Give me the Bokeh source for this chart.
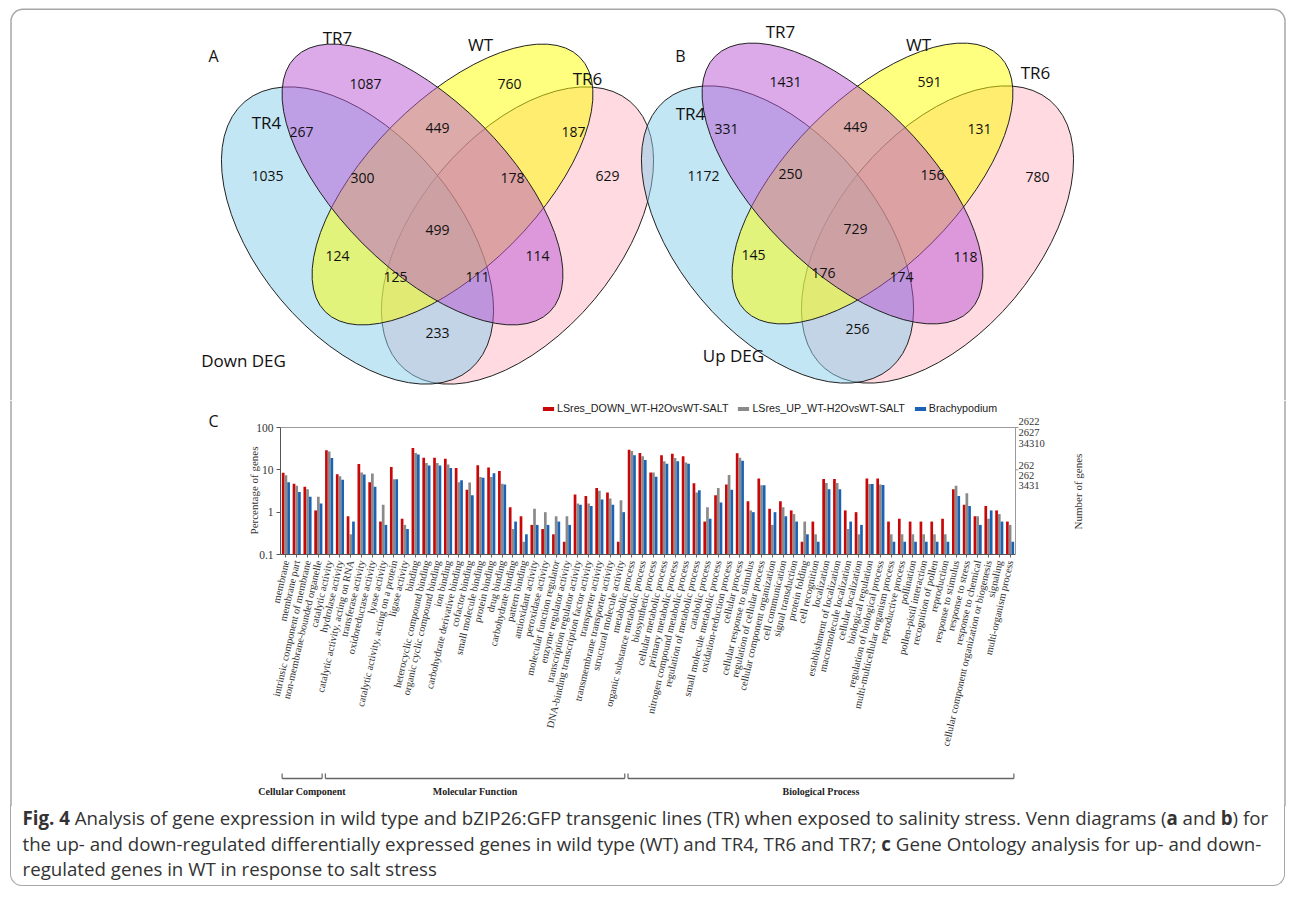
import math
from bokeh.plotting import figure
from bokeh.models import (Range1d, LogScale, LogAxis, LinearAxis, FixedTicker,
                          CustomJSTickFormatter, Legend, LegendItem, Div, ColumnDataSource)
from bokeh.layouts import column
from bokeh.transform import dodge
from bokeh.core.properties import value
from bokeh.embed import file_html
from bokeh.resources import INLINE

# ---------------------------------------------------------------- data
venn_sets = ["TR4", "TR7", "WT", "TR6"]
venn_regions = ["TR4", "TR7", "WT", "TR6", "TR4&TR7", "TR7&WT", "WT&TR6",
                "TR4&TR7&WT", "TR7&WT&TR6", "TR4&TR7&WT&TR6", "TR4&WT", "TR7&TR6",
                "TR4&WT&TR6", "TR4&TR7&TR6", "TR4&TR6"]
down_deg = [1035, 1087, 760, 629, 267, 449, 187, 300, 178, 499, 124, 114, 125, 111, 233]
up_deg = [1172, 1431, 591, 780, 331, 449, 131, 250, 156, 729, 145, 118, 176, 174, 256]

cc_terms = ["membrane", "membrane part", "intrinsic component of membrane",
            "non-membrane-bounded organelle"]
mf_terms = ["catalytic activity", "hydrolase activity", "catalytic activity, acting on RNA",
            "transferase activity", "oxidoreductase activity", "lyase activity",
            "catalytic activity, acting on a protein", "ligase activity", "binding",
            "heterocyclic compound binding", "organic cyclic compound binding", "ion binding",
            "carbohydrate derivative binding", "cofactor binding", "small molecule binding",
            "protein binding", "drug binding", "carbohydrate binding", "pattern binding",
            "antioxidant activity", "peroxidase activity", "molecular function regulator",
            "enzyme regulator activity", "transcription regulator activity",
            "DNA-binding transcription factor activity", "transporter activity",
            "transmembrane transporter activity", "structural molecule activity"]
bp_terms = ["metabolic process", "organic substance metabolic process", "biosynthetic process",
            "cellular metabolic process", "primary metabolic process",
            "nitrogen compound metabolic process", "regulation of metabolic process",
            "catabolic process", "small molecule metabolic process", "oxidation-reduction process",
            "cellular process", "cellular response to stimulus", "regulation of cellular process",
            "cellular component organization", "cell communication", "signal transduction",
            "protein folding", "cell recognition", "localization", "establishment of localization",
            "macromolecule localization", "cellular localization", "biological regulation",
            "regulation of biological process", "multi-multicellular organism process",
            "reproductive process", "pollination", "pollen-pistil interaction",
            "recognition of pollen", "reproduction", "response to stimulus", "response to stress",
            "response to chemical", "cellular component organization or biogenesis", "signaling",
            "multi-organism process"]
section_names = ["Cellular Component", "Molecular Function", "Biological Process"]

pct_down = [8.5, 4.7, 4.0, 1.1,
            29, 7.9, 0.8, 13.8, 5.1, 0.6, 11.6, 0.7, 33, 19.4, 19.4, 18.3, 11.0, 3.4, 12.8,
            11.3, 9.4, 1.3, 0.8, 0.5, 0.4, 0.3, 0.2, 2.6, 2.4, 3.7, 2.9, 0.2,
            30, 25, 8.6, 22, 24, 21, 4.8, 0.6, 2.5, 4.5, 24.5, 1.8, 6.2, 1.2, 1.8, 1.1, 0.2,
            0.6, 6.1, 6.1, 1.1, 1.0, 6.2, 6.2, 0.6, 0.7, 0.6, 0.6, 0.6, 0.7, 3.5, 1.5, 0.8,
            1.4, 1.1, 0.6]
pct_up = [7.4, 4.2, 3.5, 2.3,
          27, 7.1, 0.3, 8.7, 8.2, 1.5, 6.0, 0.5, 25, 14.5, 14.5, 13.3, 5.1, 5.0, 6.8,
          6.8, 4.7, 0.4, 0.2, 1.2, 1.0, 0.8, 0.8, 1.6, 1.6, 3.2, 2.1, 1.9,
          28, 21, 8.6, 16, 19, 15, 2.9, 1.3, 3.7, 7.5, 19.4, 1.1, 4.3, 0.5, 1.3, 0.9, 0.6,
          0.3, 4.9, 4.9, 0.4, 0.3, 4.6, 4.5, 0.3, 0.3, 0.3, 0.3, 0.3, 0.3, 4.2, 2.8, 0.8,
          0.7, 0.9, 0.5]
pct_brachy = [5.1, 3.0, 2.3, 1.6,
              19, 5.8, 0.6, 7.8, 4.0, 0.5, 6.0, 0.4, 23, 12.6, 12.6, 11.0, 5.7, 2.5, 6.5,
              8.3, 4.5, 0.6, 0.3, 0.5, 0.5, 0.6, 0.5, 1.5, 1.4, 2.0, 1.5, 1.0,
              22, 17, 6.9, 14, 16, 14, 3.3, 0.7, 1.7, 3.4, 16.5, 1.0, 4.3, 1.0, 0.8, 0.6, 0.3,
              0.2, 3.5, 3.5, 0.6, 0.5, 4.6, 4.4, 0.2, 0.2, 0.2, 0.2, 0.2, 0.2, 2.4, 1.4, 0.5,
              1.1, 0.6, 0.2]
series_names = ["LSres_DOWN_WT-H2OvsWT-SALT", "LSres_UP_WT-H2OvsWT-SALT", "Brachypodium"]
genes_at_100 = ["2622", "2627", "34310"]
genes_at_10 = ["262", "262", "3431"]
pct_ticks = [0.1, 1, 10, 100]

# ---------------------------------------------------------------- style / layout
PW = 1296                       # page width (bokeh page has no margin)
SANS = "Open Sans"
SERIF = "Liberation Serif"
RED, GREY, BLUE = "#c80808", "#8a8a8a", "#1c62b4"
FRAME = "#a6a6a6"
FX0, FX1, FY0, FR = 10.5, 1284.5, 8.75, 12     # outer rounded frame


def page_fig(h, top, bottom, x_range=None):
    return figure(width=PW, height=h, x_range=x_range or Range1d(0, PW),
                  y_range=Range1d(bottom, top), x_axis_type=None, y_axis_type=None,
                  toolbar_location=None, output_backend="svg", min_border=0,
                  outline_line_color=None)


# ---------------------------------------------------------------- Venn diagrams
venn = page_fig(400, 0, 400)
venn.segment(x0=[FX0 + FR, FX0, FX1], x1=[FX1 - FR, FX0, FX1], y0=[FY0, FY0 + FR, FY0 + FR],
             y1=[FY0, 400, 400], line_color=FRAME, line_width=1.5)
venn.arc(x=[FX0 + FR, FX1 - FR], y=[FY0 + FR, FY0 + FR], radius=FR,
         start_angle=[math.pi / 2, 0.0], end_angle=[math.pi, math.pi / 2],
         line_color=FRAME, line_width=1.5)

ell_shape = {"TR6": (80, 6, 350, 200, 50), "TR4": (-80, 6, 350, 200, -50),
             "WT": (15, -45, 360, 168, 45), "TR7": (-15, -45, 360, 168, -45)}
ell_color = {"TR4": "#87ceeb", "TR7": "#ba55d3", "WT": "#ffff00", "TR6": "#ffb6c1"}
draw_order = ["TR6", "TR4", "WT", "TR7"]
off_a = [(-170, -54), (-72, -146), (72, -146), (170, -54), (-136, -98), (0, -102),
         (136, -98), (-75, -52), (75, -52), (0, 0), (-100, 26), (100, 26),
         (-42, 47), (40, 47), (0, 103)]
off_b = [(-154, -53), (-72, -147), (72, -147), (180, -52), (-131, -100), (-2, -102),
         (122, -100), (-67, -55), (75, -54), (-2, 0), (-104, 26), (108, 28),
         (-34, 44), (44, 48), (0, 100)]
diagrams = [
    dict(cx=437, cy=229, counts=down_deg, offs=off_a, letter="A", letter_xy=(213, 55),
         title="Down DEG", title_xy=(243, 360),
         set_xy={"TR4": (266, 122), "TR7": (337, 37), "WT": (480, 44), "TR6": (587, 78)}),
    dict(cx=857, cy=228, counts=up_deg, offs=off_b, letter="B", letter_xy=(680, 55),
         title="Up DEG", title_xy=(733, 355),
         set_xy={"TR4": (690, 113), "TR7": (780, 31), "WT": (918, 44), "TR6": (1035, 72)}),
]
for d in diagrams:
    for s in draw_order:
        dx, dy, w, h, ang = ell_shape[s]
        venn.ellipse(x=[d["cx"] + dx], y=[d["cy"] + dy], width=[w], height=[h], angle=[ang],
                     angle_units="deg", fill_color=ell_color[s], fill_alpha=0.5,
                     line_color="#222222", line_width=1)
    src = ColumnDataSource(dict(x=[d["cx"] + o[0] for o in d["offs"]],
                                y=[d["cy"] + o[1] for o in d["offs"]],
                                t=[str(c) for c in d["counts"]]))
    venn.text(x="x", y="y", text="t", source=src, text_font=value(SANS), text_font_size="14px",
              text_align="center", text_baseline="middle", text_color="#111111")
    venn.text(x=[d["set_xy"][s][0] for s in venn_sets], y=[d["set_xy"][s][1] for s in venn_sets],
              text=venn_sets, text_font=value(SANS), text_font_size="17px",
              text_align="center", text_baseline="middle", text_color="#111111")
    venn.text(x=[d["letter_xy"][0]], y=[d["letter_xy"][1]], text=[d["letter"]],
              text_font=value(SANS), text_font_size="16px", text_align="center",
              text_baseline="middle", text_color="#111111")
    venn.text(x=[d["title_xy"][0]], y=[d["title_xy"][1]], text=[d["title"]],
              text_font=value(SANS), text_font_size="17px", text_align="center",
              text_baseline="middle", text_color="#111111")

# ---------------------------------------------------------------- GO bar chart
terms = cc_terms + mf_terms + bp_terms
n = len(terms)
idx = list(range(n))
CH_L, CH_R = 280, 1015                     # page columns of the chart's left/right axes
P = (CH_R - CH_L) / n                      # pixels per GO term
L, R = -0.5, n - 0.5
p = page_fig(406, 400, 806, x_range=Range1d(L - CH_L / P, R + (PW - CH_R) / P))
y_bot, y_top = 554.0, 427.0                # page rows of 0.1 % and 100 %
dec = (y_bot - y_top) / 3.0
lo = -1 - (806 - y_bot) / dec
hi = 2 + (y_top - 400) / dec
p.extra_y_ranges = {"log": Range1d(10 ** lo, 10 ** hi)}
p.extra_y_scales = {"log": LogScale()}
p.extra_x_ranges = {"page": Range1d(0, PW)}

p.segment(x0=[FX0, FX1], x1=[FX0, FX1], y0=[400, 400], y1=[806, 806], x_range_name="page",
          line_color=FRAME, line_width=1.5)

src = ColumnDataSource(dict(idx=idx, term=terms, down=pct_down, up=pct_up, brachy=pct_brachy))
renderers = []
for col, off, colr in [("down", -0.25, RED), ("up", 0.0, GREY), ("brachy", 0.25, BLUE)]:
    r = p.vbar(x=dodge("idx", off), top=col, bottom=0.1, width=0.25, source=src,
               y_range_name="log", fill_color=colr, line_color=None)
    renderers.append(r)

tick = 3.0 / P
p.segment(x0=[L, L, R, R, R], x1=[R, R, R, R + tick, R + tick], y0=[100, 0.1, 0.1, 100, 10],
          y1=[100, 0.1, 100, 100, 10], y_range_name="log",
          line_color=["#9a9a9a", "#555555", "#9a9a9a", "#9a9a9a", "#9a9a9a"], line_width=1)

left = LogAxis(y_range_name="log", fixed_location=L, bounds=(0.1, 100),
               ticker=FixedTicker(ticks=pct_ticks, minor_ticks=[]),
               formatter=CustomJSTickFormatter(code="return tick.toString()"))
left.axis_line_color = "#555555"
left.major_tick_line_color = "#555555"
left.major_tick_out = 4
left.major_tick_in = 0
left.minor_tick_out = 0
left.major_label_text_font = SERIF
left.major_label_text_font_size = "11.5px"
left.major_label_text_color = "#333333"
left.major_label_standoff = 3
p.add_layout(left, "left")

bottom = LinearAxis(y_range_name="log", fixed_location=0.1,
                    ticker=FixedTicker(ticks=idx, minor_ticks=[]),
                    formatter=CustomJSTickFormatter(args=dict(terms=terms),
                                                    code="return terms[Math.round(tick)] || ''"))
bottom.axis_line_color = None
bottom.major_tick_line_color = "#666666"
bottom.major_tick_out = 3
bottom.major_tick_in = 0
bottom.minor_tick_out = 0
bottom.major_label_orientation = math.radians(77)
bottom.major_label_text_font = SERIF
bottom.major_label_text_font_size = "10.3px"
bottom.major_label_text_color = "#333333"
bottom.major_label_standoff = 3
p.add_layout(bottom, "below")

rsrc = ColumnDataSource(dict(x=[R] * 6, y=[100] * 3 + [10] * 3, t=genes_at_100 + genes_at_10,
                             dy=[-6, 5, 16, -4, 6, 16]))
p.text(x="x", y="y", text="t", y_offset="dy", x_offset=3, source=rsrc, y_range_name="log",
       text_font=value(SERIF), text_font_size="10.5px", text_baseline="middle",
       text_color="#333333")

p.text(x=[L], y=[490], text=["Percentage of genes"], x_offset=-27, angle=math.pi / 2,
       text_align="center", text_baseline="middle", text_font=value(SERIF),
       text_font_size="11px", text_color="#333333")
p.text(x=[R], y=[491], text=["Number of genes"], x_offset=62, angle=math.pi / 2,
       text_align="center", text_baseline="middle", text_font=value(SERIF),
       text_font_size="11px", text_color="#333333")
p.text(x=[L], y=[420], text=["C"], x_offset=-67, text_align="center", text_baseline="middle",
       text_font=value(SANS), text_font_size="16px", text_color="#111111")

sizes = [len(cc_terms), len(mf_terms), len(bp_terms)]
starts = [L, L + sizes[0], L + sizes[0] + sizes[1]]
ends = [s + k for s, k in zip(starts, sizes)]
bx0 = [s + 0.15 for s in starts]
bx1 = [e - 0.15 for e in ends]
p.segment(x0=bx0, x1=bx1, y0=[778] * 3, y1=[778] * 3, line_color="#666666", line_width=1.6)
p.segment(x0=bx0 + bx1, x1=bx0 + bx1, y0=[778] * 6, y1=[773] * 6, line_color="#666666",
          line_width=1.2)
p.text(x=[(s + e) / 2 for s, e in zip(starts, ends)], y=[791] * 3, text=section_names,
       text_align="center", text_baseline="middle", text_font=value(SERIF),
       text_font_size="10px", text_font_style="bold", text_color="#222222")

legend = Legend(items=[LegendItem(label=nm, renderers=[r]) for nm, r in zip(series_names, renderers)],
                orientation="horizontal", location=(541, 392), padding=0, margin=0, spacing=8,
                label_standoff=2, glyph_width=14, glyph_height=5, label_height=5,
                label_text_font="Liberation Sans", label_text_font_size="10.7px",
                label_text_color="#222222", border_line_color=None, background_fill_alpha=0)
p.add_layout(legend)

# ---------------------------------------------------------------- caption
caption = Div(width=PW, height=91, margin=0, text=(
    "<div style=\"margin-left:10px;width:1275px;height:81px;box-sizing:border-box;"
    "border:1.5px solid " + FRAME + ";border-top:none;border-radius:0 0 12px 12px;"
    "font-family:'Open Sans';font-size:18.7px;line-height:25.5px;color:#333;"
    "padding-left:11.5px;white-space:nowrap\"><div style=\"margin-top:-1px\">"
    "<b>Fig. 4</b> Analysis of gene expression in wild type and bZIP26:GFP transgenic lines (TR) "
    "when exposed to salinity stress. Venn diagrams (<b>a</b> and <b>b</b>) for<br>"
    "the up- and down-regulated differentially expressed genes in wild type (WT) and TR4, TR6 and "
    "TR7; <b>c</b> Gene Ontology analysis for up- and down-<br>"
    "regulated genes in WT in response to salt stress</div></div>"))

page = column(venn, p, caption, spacing=0)

open("out.html", "w").write(file_html(page, INLINE))
